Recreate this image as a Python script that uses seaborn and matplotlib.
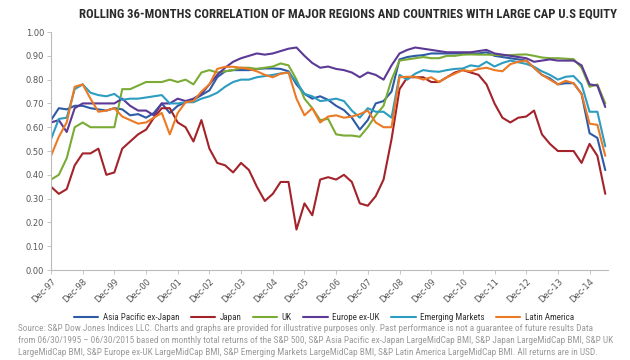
import numpy as np
import pandas as pd
import matplotlib
matplotlib.use('Agg')
import matplotlib.pyplot as plt
import seaborn as sns

# quarterly readings, Dec-97 .. Jun-15 (71 points)
dates = pd.date_range('1997-12-31', '2015-06-30', freq='QE')

asia_pac = [0.63, 0.68, 0.675, 0.69, 0.69, 0.68, 0.675, 0.67, 0.68, 0.675,
            0.65, 0.655, 0.64, 0.66, 0.70, 0.66, 0.69, 0.705, 0.715, 0.735,
            0.755, 0.81, 0.835, 0.84, 0.84, 0.84, 0.845, 0.847, 0.847, 0.845,
            0.835, 0.78, 0.74, 0.72, 0.73, 0.715, 0.69, 0.672, 0.64, 0.59,
            0.63, 0.70, 0.71, 0.75, 0.885, 0.895, 0.90, 0.903, 0.91, 0.91,
            0.91, 0.91, 0.91, 0.91, 0.91, 0.915, 0.90, 0.895, 0.89, 0.885,
            0.88, 0.85, 0.82, 0.805, 0.78, 0.785, 0.785, 0.74, 0.575, 0.555,
            0.42]
japan = [0.35, 0.32, 0.34, 0.44, 0.49, 0.49, 0.51, 0.40, 0.41, 0.51,
         0.54, 0.57, 0.59, 0.64, 0.68, 0.68, 0.62, 0.60, 0.54, 0.63,
         0.51, 0.45, 0.44, 0.41, 0.45, 0.42, 0.35, 0.29, 0.32, 0.37,
         0.37, 0.17, 0.28, 0.23, 0.38, 0.39, 0.38, 0.40, 0.37, 0.28,
         0.27, 0.31, 0.38, 0.55, 0.76, 0.81, 0.81, 0.81, 0.79, 0.79,
         0.81, 0.83, 0.84, 0.83, 0.82, 0.78, 0.70, 0.64, 0.62, 0.64,
         0.645, 0.67, 0.57, 0.53, 0.50, 0.50, 0.50, 0.45, 0.53, 0.48,
         0.32]
uk = [0.38, 0.40, 0.47, 0.60, 0.62, 0.60, 0.60, 0.60, 0.60, 0.76,
      0.76, 0.775, 0.79, 0.79, 0.79, 0.80, 0.79, 0.80, 0.78, 0.83,
      0.84, 0.83, 0.835, 0.84, 0.85, 0.85, 0.845, 0.85, 0.855, 0.868,
      0.86, 0.80, 0.72, 0.68, 0.63, 0.635, 0.57, 0.565, 0.565, 0.56,
      0.60, 0.65, 0.69, 0.80, 0.88, 0.885, 0.89, 0.895, 0.89, 0.89,
      0.90, 0.90, 0.905, 0.906, 0.905, 0.905, 0.904, 0.903, 0.903, 0.905,
      0.906, 0.90, 0.893, 0.89, 0.89, 0.888, 0.886, 0.85, 0.77, 0.78,
      0.70]
europe_ex_uk = [0.62, 0.63, 0.58, 0.68, 0.70, 0.70, 0.70, 0.70, 0.70, 0.72,
                0.69, 0.67, 0.67, 0.65, 0.70, 0.70, 0.72, 0.71, 0.72, 0.74,
                0.78, 0.82, 0.85, 0.875, 0.89, 0.90, 0.91, 0.905, 0.91, 0.92,
                0.93, 0.935, 0.90, 0.87, 0.85, 0.855, 0.845, 0.84, 0.83, 0.81,
                0.83, 0.82, 0.80, 0.86, 0.91, 0.925, 0.935, 0.93, 0.925, 0.92,
                0.915, 0.915, 0.915, 0.915, 0.92, 0.925, 0.91, 0.905, 0.90, 0.895,
                0.89, 0.875, 0.88, 0.885, 0.88, 0.88, 0.88, 0.86, 0.78, 0.775,
                0.685]
emerging = [0.55, 0.635, 0.64, 0.76, 0.78, 0.745, 0.735, 0.73, 0.74, 0.715,
            0.72, 0.72, 0.725, 0.73, 0.735, 0.70, 0.70, 0.705, 0.705, 0.72,
            0.73, 0.745, 0.77, 0.79, 0.80, 0.80, 0.81, 0.815, 0.82, 0.826,
            0.83, 0.79, 0.74, 0.73, 0.71, 0.714, 0.72, 0.71, 0.67, 0.64,
            0.68, 0.665, 0.665, 0.64, 0.82, 0.80, 0.825, 0.84, 0.835, 0.833,
            0.84, 0.845, 0.847, 0.86, 0.855, 0.875, 0.855, 0.87, 0.88, 0.873,
            0.866, 0.854, 0.835, 0.82, 0.80, 0.812, 0.815, 0.78, 0.665, 0.665,
            0.52]
latam = [0.48, 0.56, 0.62, 0.77, 0.78, 0.72, 0.665, 0.67, 0.68, 0.645,
         0.63, 0.615, 0.62, 0.64, 0.66, 0.57, 0.66, 0.705, 0.71, 0.75,
         0.78, 0.845, 0.854, 0.854, 0.85, 0.845, 0.835, 0.82, 0.81, 0.825,
         0.83, 0.72, 0.65, 0.68, 0.62, 0.645, 0.65, 0.64, 0.645, 0.655,
         0.67, 0.62, 0.60, 0.60, 0.81, 0.812, 0.812, 0.80, 0.81, 0.79,
         0.81, 0.825, 0.84, 0.835, 0.845, 0.85, 0.84, 0.835, 0.865, 0.875,
         0.88, 0.85, 0.82, 0.80, 0.78, 0.795, 0.785, 0.74, 0.615, 0.61,
         0.48]

series_names = ['Asia Pacific ex-Japan', 'Japan', 'UK', 'Europe ex-UK',
                'Emerging Markets', 'Latin America']
series_colors = ['#2d5ba6', '#a3232a', '#7aab35', '#5b3995', '#2c9cc0', '#ec7a25']

df = pd.DataFrame({'date': dates, 'Asia Pacific ex-Japan': asia_pac, 'Japan': japan,
                   'UK': uk, 'Europe ex-UK': europe_ex_uk,
                   'Emerging Markets': emerging, 'Latin America': latam})
long = df.melt(id_vars='date', var_name='region', value_name='corr')

sns.set_style('white')
narrow = ['DejaVu Sans Condensed', 'Liberation Sans Narrow', 'Roboto Condensed', 'Roboto', 'DejaVu Sans']

fig = plt.figure(figsize=(6.3, 3.6), dpi=100)
ax = fig.add_axes([0.081, 0.25, 0.884, 0.661])

sns.lineplot(data=long, x='date', y='corr', hue='region', hue_order=series_names,
             palette=series_colors, linewidth=1.5, ax=ax)

ax.set_ylim(0, 1.0)
ax.set_yticks(np.arange(0, 1.01, 0.1))
ax.set_yticklabels([f'{v:.2f}' for v in np.arange(0, 1.01, 0.1)], fontsize=6, color='#555555')
ax.set_xlim(pd.Timestamp('1997-12-31'), pd.Timestamp('2015-07-31'))
tick_dates = pd.date_range('1997-12-31', '2014-12-31', freq='YE-DEC')
ax.set_xticks(tick_dates)
ax.set_xticklabels([d.strftime('%b-%y') for d in tick_dates], rotation=45, ha='right',
                   rotation_mode='anchor', fontsize=6, color='#555555')
ax.set_xlabel('')
ax.set_ylabel('')
for side in ['top', 'right']:
    ax.spines[side].set_visible(False)
for side in ['left', 'bottom']:
    ax.spines[side].set_color('#bbbbbb')
    ax.spines[side].set_linewidth(0.8)
ax.tick_params(axis='both', length=3, width=0.6, color='#bbbbbb', pad=2, bottom=True, left=True)

title = fig.text(0.979, 0.961, 'ROLLING 36-MONTHS CORRELATION OF MAJOR REGIONS AND COUNTRIES WITH LARGE CAP U.S EQUITY',
                 ha='right', va='center', fontsize=8, fontweight='bold', family=narrow, color='#2b2b2b')

footer = ('Source: S&P Dow Jones Indices LLC. Charts and graphs are provided for illustrative purposes only. '
          'Past performance is not a guarantee of future results Data\n'
          'from 06/30/1995 – 06/30/2015 based on monthly total returns of the S&P 500, S&P Asia Pacific ex-Japan '
          'LargeMidCap BMI, S&P Japan LargeMidCap BMI, S&P UK\n'
          'LargeMidCap BMI, S&P Europe ex-UK LargeMidCap BMI, S&P Emerging Markets LargeMidCap BMI, '
          'S&P Latin America LargeMidCap BMI. All returns are in USD.')
foot = fig.text(0.029, 0.055, footer, ha='left', va='center', fontsize=6, family=narrow,
                color='#9a9a9a', linespacing=1.45)

handles, labels = ax.get_legend_handles_labels()


def make_legend(size):
    return ax.legend(handles, labels, ncol=6, loc='center', bbox_to_anchor=(0.49, -0.2),
                     frameon=False, prop={'family': narrow, 'size': size}, handlelength=2.7,
                     columnspacing=1.3, handletextpad=0.5, labelcolor='#333333')


leg = make_legend(7)

# shrink/grow the texts so their widths match the reference layout
fig.canvas.draw()
r = fig.canvas.get_renderer()
title.set_fontsize(8 * 537 / title.get_window_extent(r).width)
foot.set_fontsize(6 * 594 / foot.get_window_extent(r).width)
leg_size = 7 * 507 / leg.get_window_extent(r).width
leg.remove()
leg = make_legend(leg_size)
for line in leg.get_lines():
    line.set_linewidth(1.5)

fig.savefig('out.png', dpi=100)
